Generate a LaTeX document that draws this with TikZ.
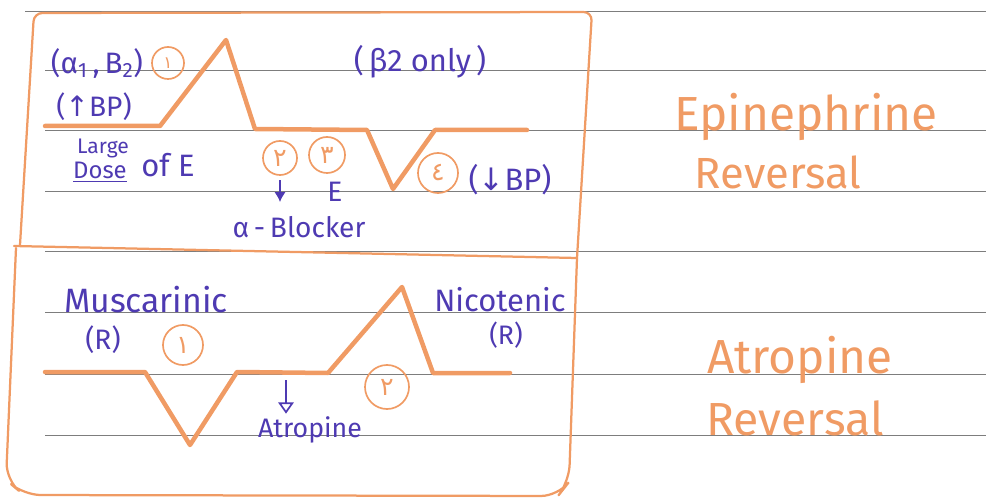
\documentclass[tikz,border=0pt]{standalone}
\usepackage{fontspec}
\setmainfont{Fira Sans}
\newfontfamily\arabicfont[Script=Arabic]{DejaVu Sans}
\newfontfamily\symfont{DejaVu Sans}
\TeXXeTstate=1
\usetikzlibrary{arrows.meta}
\definecolor{pen}{RGB}{240,155,100}
\definecolor{ink}{RGB}{78,58,178}
\definecolor{rule}{RGB}{125,125,125}
\newcommand{\ardig}[1]{{\arabicfont\beginR #1\endR}}
\newcommand{\fs}[1]{\fontsize{#1}{#1}\selectfont}

\begin{document}
\begin{tikzpicture}[x=0.025cm,y=-0.025cm,
  ruled/.style={rule,line width=.7pt},
  boxline/.style={pen,line width=1.6pt,line join=round,line cap=round},
  trace/.style={pen,line width=3.2pt,line join=round,line cap=round},
  num/.style={circle,draw=pen,line width=1.2pt,text=pen,inner sep=0pt,font=\fs{18}},
  hand/.style={text=ink,inner sep=0pt},
  title/.style={text=pen,inner sep=0pt,anchor=base},
  inkarrow/.style={ink,line width=1.2pt}]
\useasboundingbox (0,0) rectangle (986,498);
\draw[ruled] (25,11) -- (986,11);
\draw[ruled] (45,70) -- (986,70);
\draw[ruled] (45,130) -- (986,130);
\draw[ruled] (45,191) -- (986,191);
\draw[ruled] (45,251) -- (986,251);
\draw[ruled] (45,312) -- (986,312);
\draw[ruled] (45,374) -- (986,374);
\draw[ruled] (45,435) -- (986,435);
\draw[boxline,rounded corners=6pt] (20,245) -- (34,13) -- (592,12) -- (577,258);
\draw[boxline] (14,246) -- (577,258);
\draw[boxline,rounded corners=12pt] (16,248) -- (6,480) -- (24,495) -- (558,496) -- (569,482) -- (577,258);
\draw[trace] (45,126) -- (160,126) -- (226,40) -- (255,129) -- (367,130) -- (393,189) -- (435,130) -- (527,130);
\draw[trace] (45,372) -- (145,372) -- (190,445) -- (237,372) -- (328,373) -- (402,287) -- (433,373) -- (510,373);
\node[hand,font=\fs{21}] (alphabeta) at (97,63) {(α\textsubscript{1}\,,\,B\textsubscript{2})};
\node[hand,font=\fs{20}] (upbp) at (94,107) {({\symfont↑}BP)};
\node[hand,font=\fs{15}] (large) at (103,148) {Large};
\node[hand,font=\fs{17}] (dose) at (100,172) {\underline{Dose}};
\node[hand,font=\fs{22}] (ofe) at (168,165) {of E};
\node[hand,font=\fs{22}] (betaonly) at (420,62) {(\,β2 only\,)};
\node[num,minimum size=0.8cm,font=\fs{12}] (top1) at (168,63) {\ardig{١}};
\node[num,minimum size=0.85cm] (top2) at (280,158) {\ardig{٢}};
\node[num,minimum size=0.9cm] (top3) at (327,155) {\ardig{٣}};
\node[num,minimum size=1cm] (top4) at (438,173) {\ardig{٤}};
\node[hand,font=\fs{20}] (epi) at (335,192) {E};
\node[hand,font=\fs{20}] (blocker) at (299,227) {α\,-\,Blocker};
\node[hand,font=\fs{22}] (downbp) at (510,180) {({\symfont↓}BP)};
\coordinate (blocktip) at (280,202);
\draw[inkarrow,-{Latex[length=7pt,width=8pt]}] ([yshift=-3pt]top2.south) -- (blocktip);
\node[title,font=\fs{34}] (epititle) at (806,131) {Epinephrine};
\node[title,font=\fs{31}] (epirev) at (778,189) {Reversal};
\node[hand,font=\fs{24}] (musc) at (146,300) {Muscarinic};
\node[hand,font=\fs{20}] (muscr) at (103,340) {(R)};
\node[num,minimum size=1cm] (bot1) at (183,345) {\ardig{١}};
\node[num,minimum size=1.1cm] (bot2) at (387,387) {\ardig{٢}};
\node[hand,font=\fs{19}] (atro) at (310,430) {Atropine};
\coordinate (atrotop) at (286,380);
\draw[inkarrow,-{Triangle[open,length=8pt,width=11pt]}] (atrotop) -- ([yshift=2pt]atro.north -| atrotop);
\node[hand,font=\fs{22}] (nico) at (500,300) {Nicotenic};
\node[hand,font=\fs{19}] (nicor) at (506,335) {(R)};
\node[title,font=\fs{34}] (atrotitle) at (800,373) {Atropine};
\node[title,font=\fs{33}] (atrorev) at (795,435) {Reversal};
\end{tikzpicture}
\end{document}
